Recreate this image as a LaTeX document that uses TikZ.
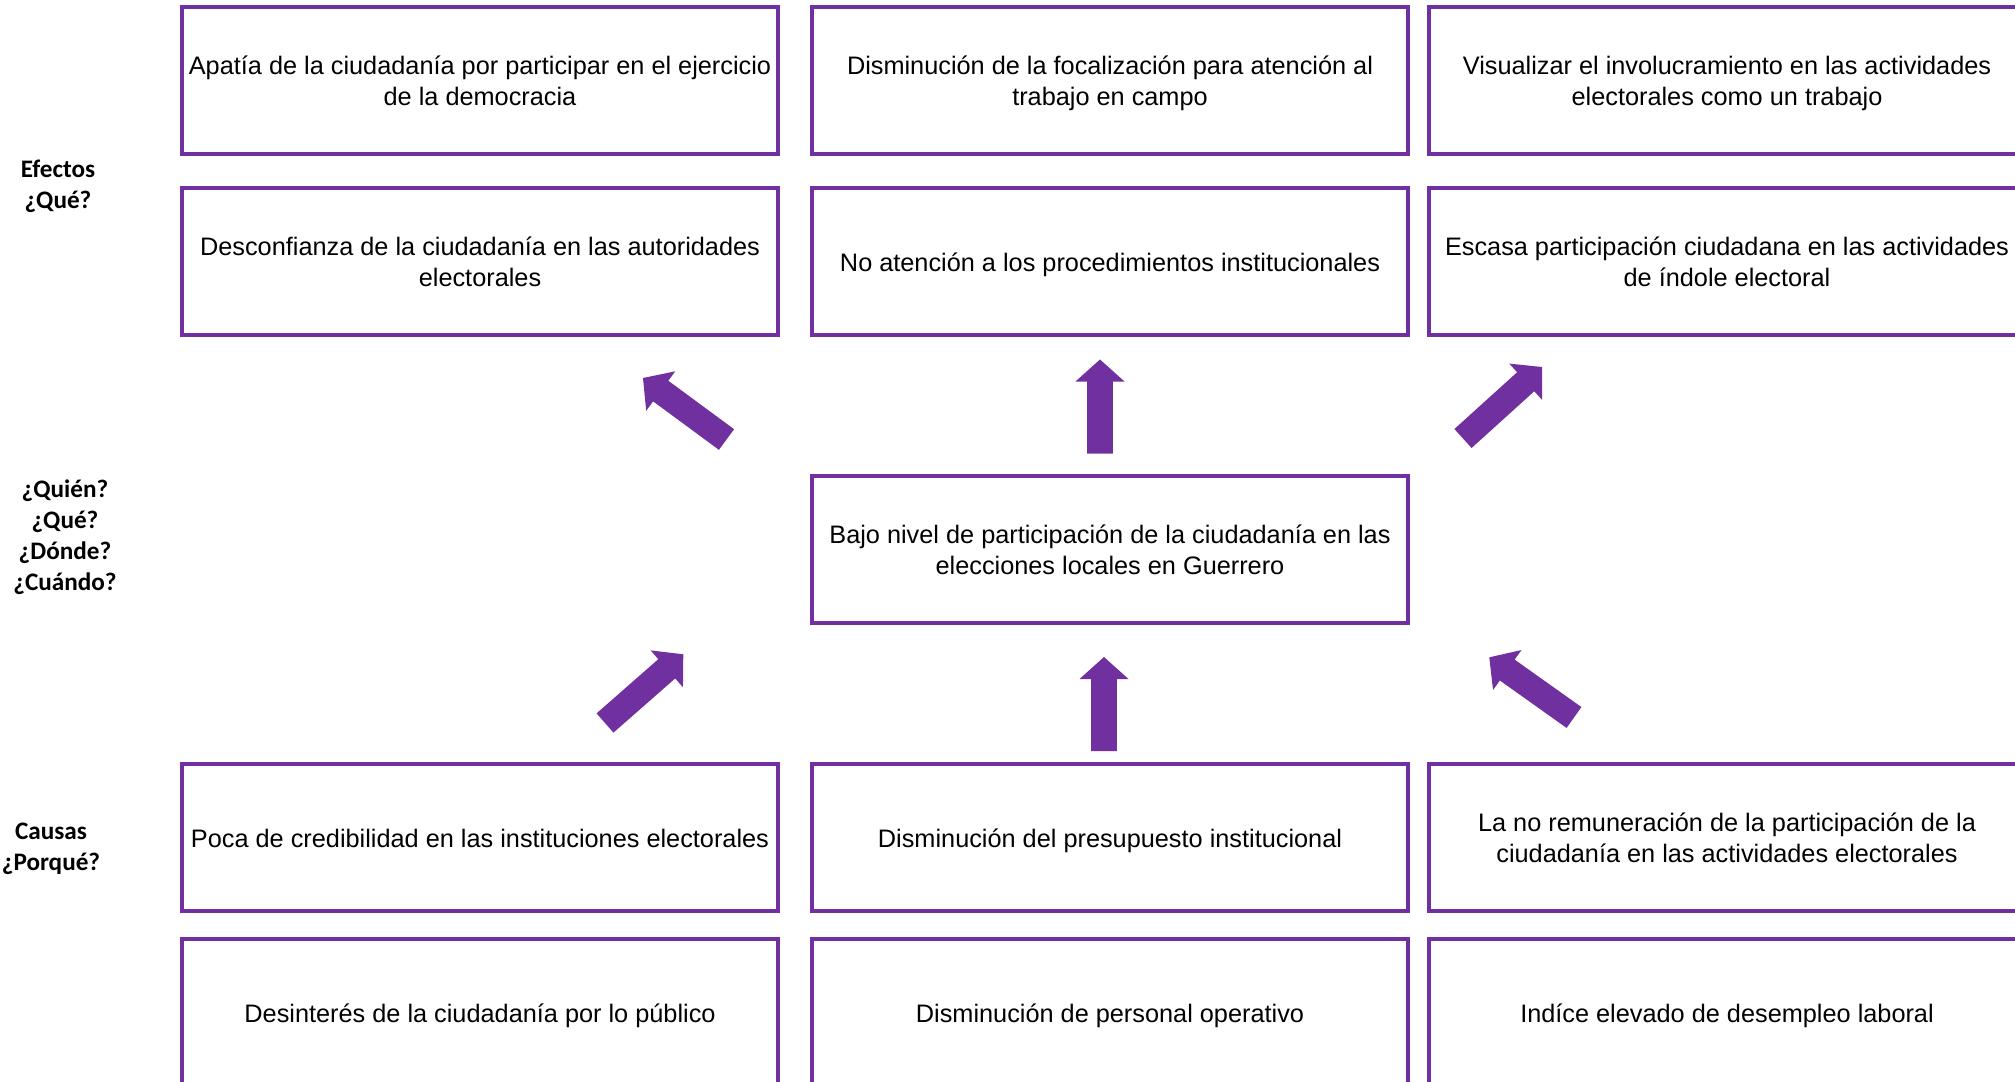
\documentclass[tikz,border=0pt]{standalone}
\usepackage{fontspec}
\setmainfont{Liberation Sans}
\newfontfamily\lblfont{Carlito}
\usetikzlibrary{calc}
\definecolor{purp}{HTML}{7030A0}
\newcommand\sw{6.4pt}
\newcommand\hw{12.25pt}
\newcommand\hl{11pt}
\newcommand\tp{\rule[-2.7pt]{0pt}{15.2pt}}
\newcommand\blockarr[2]{%
  \fill[purp] ($(#1)!\sw!90:(#2)$) -- ($(#2)!\hl!(#1)!\sw!-90:(#1)$) -- ($(#2)!\hl!(#1)!\hw!-90:(#1)$)
   -- (#2) -- ($(#2)!\hl!(#1)!\hw!90:(#1)$) -- ($(#2)!\hl!(#1)!\sw!90:(#1)$) -- ($(#1)!\sw!-90:(#2)$) -- cycle;}
\begin{document}
\begin{tikzpicture}[x=0.5pt,y=-0.5pt,
  box/.style={draw=purp, line width=2pt, minimum width=298pt, minimum height=73.5pt,
    inner sep=0pt, align=center, font=\fontsize{12.65pt}{15.5pt}\selectfont},
  lbl/.style={align=center, inner sep=0pt, font=\lblfont\bfseries\fontsize{12.6pt}{15.5pt}\selectfont}]
\clip (0,0) rectangle (2015,1082);
\fill[white] (0,0) rectangle (2015,1082);
% effects
\node[box] (e11) at (480,80.5) {\tp Apatía de la ciudadanía por participar en el ejercicio\\\tp de la democracia};
\node[box] (e12) at (1110,80.5) {\tp Disminución de la focalización para atención al\\\tp trabajo en campo};
\node[box] (e13) at (1727,80.5) {\tp Visualizar el involucramiento en las actividades\\\tp electorales como un trabajo};
\node[box] (e21) at (480,261.5) {\tp Desconfianza de la ciudadanía en las autoridades\\\tp electorales};
\node[box] (e22) at (1110,261.5) {\tp No atención a los procedimientos institucionales};
\node[box] (e23) at (1727,261.5) {\tp Escasa participación ciudadana en las actividades\\\tp de índole electoral};
% problem
\node[box] (prob) at (1110,549.5) {\tp Bajo nivel de participación de la ciudadanía en las\\\tp elecciones locales en Guerrero};
% causes
\node[box] (c11) at (480,837.5) {\tp Poca de credibilidad en las instituciones electorales};
\node[box] (c12) at (1110,837.5) {\tp Disminución del presupuesto institucional};
\node[box] (c13) at (1727,837.5) {\tp La no remuneración de la participación de la\\\tp ciudadanía en las actividades electorales};
\node[box] (c21) at (480,1012.5) {\tp Desinterés de la ciudadanía por lo público};
\node[box] (c22) at (1110,1012.5) {\tp Disminución de personal operativo};
\node[box] (c23) at (1727,1012.5) {\tp Indíce elevado de desempleo laboral};
% labels
\node[lbl] (lef) at (58,186) {Efectos\\¿Qué?};
\node[lbl] (lqu) at (65,537) {¿Quién?\\¿Qué?\\¿Dónde?\\¿Cuándo?};
\node[lbl] (lca) at (51,849) {Causas\\¿Porqué?};
% arrows
\coordinate (a1t) at (726.5,439.5); \coordinate (a1p) at (643,378);
\coordinate (a2t) at (1100,453.5); \coordinate (a2p) at (1100,359.5);
\coordinate (a3t) at (1463,438.5); \coordinate (a3p) at (1542,367);
\coordinate (a4t) at (605,723); \coordinate (a4p) at (683.3,654.3);
\coordinate (a5t) at (1104,751); \coordinate (a5p) at (1104,657);
\coordinate (a6t) at (1574,717.5); \coordinate (a6p) at (1489.3,657.3);
\blockarr{a1t}{a1p}
\blockarr{a2t}{a2p}
\blockarr{a3t}{a3p}
\blockarr{a4t}{a4p}
\blockarr{a5t}{a5p}
\blockarr{a6t}{a6p}
\end{tikzpicture}
\end{document}
